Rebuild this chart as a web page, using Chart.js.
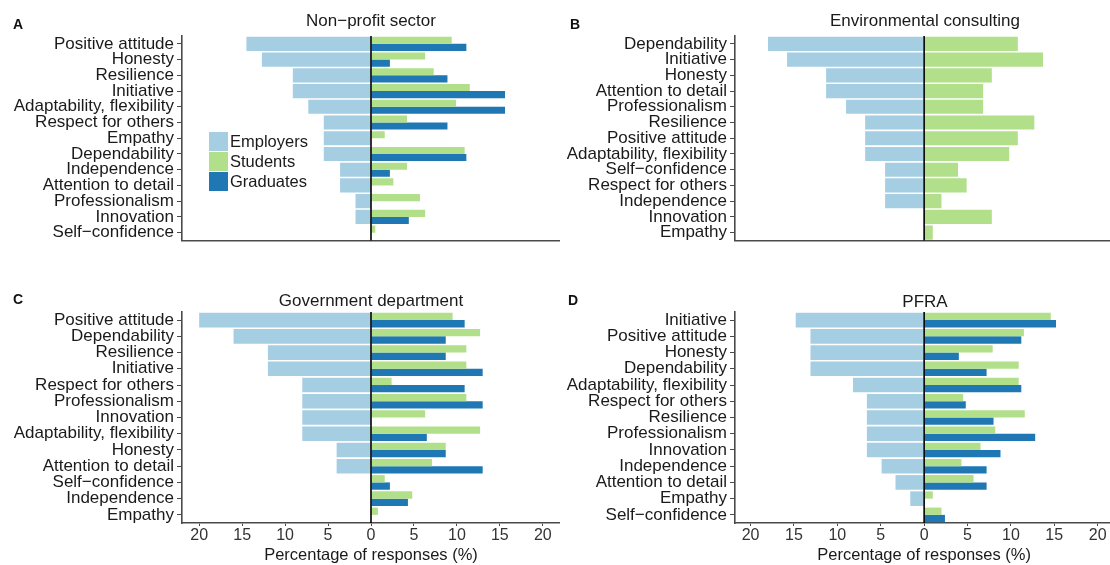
<!DOCTYPE html>
<html>
<head>
<meta charset="utf-8">
<script src="https://cdn.jsdelivr.net/npm/chart.js@4/dist/chart.umd.min.js"></script>
<style>
  html, body { margin: 0; padding: 0; background: #fff; }
  #wrap { position: relative; width: 1110px; height: 565px; overflow: hidden; background: #fff; }
  #wrap canvas { position: absolute; }
</style>
</head>
<body>
<div id="wrap">
  <canvas id="panelA" width="560" height="252" style="left:0px;top:0px"></canvas>
  <canvas id="panelB" width="560" height="252" style="left:555px;top:0px"></canvas>
  <canvas id="panelC" width="560" height="289" style="left:0px;top:276px"></canvas>
  <canvas id="panelD" width="560" height="289" style="left:555px;top:276px"></canvas>
</div>
<script>
// Percentage of responses naming each attribute, by respondent group.
const seriesNames = ['Employers', 'Students', 'Graduates'];
const seriesColors = ['#a6cee3', '#b2df8a', '#1f78b4'];
const tickValues = [-20, -15, -10, -5, 0, 5, 10, 15, 20];
const axisTitle = 'Percentage of responses (%)';

// A: Non-profit sector
const nonprofitSkills = ['Positive attitude', 'Honesty', 'Resilience', 'Initiative',
  'Adaptability, flexibility', 'Respect for others', 'Empathy', 'Dependability',
  'Independence', 'Attention to detail', 'Professionalism', 'Innovation', 'Self\u2212confidence'];
const nonprofitEmployers = [14.5, 12.7, 9.1, 9.1, 7.3, 5.5, 5.5, 5.5, 3.6, 3.6, 1.8, 1.8, 0];
const nonprofitStudents  = [9.4, 6.3, 7.3, 11.5, 9.9, 4.2, 1.6, 10.9, 4.2, 2.6, 5.7, 6.3, 0.5];
const nonprofitGraduates = [11.1, 2.2, 8.9, 15.6, 15.6, 8.9, 0, 11.1, 2.2, 0, 0, 4.4, 0];

// B: Environmental consulting (no graduate responses)
const consultingSkills = ['Dependability', 'Initiative', 'Honesty', 'Attention to detail',
  'Professionalism', 'Resilience', 'Positive attitude', 'Adaptability, flexibility',
  'Self\u2212confidence', 'Respect for others', 'Independence', 'Innovation', 'Empathy'];
const consultingEmployers = [18.0, 15.8, 11.3, 11.3, 9.0, 6.8, 6.8, 6.8, 4.5, 4.5, 4.5, 0, 0];
const consultingStudents  = [10.8, 13.7, 7.8, 6.8, 6.8, 12.7, 10.8, 9.8, 3.9, 4.9, 2.0, 7.8, 1.0];

// C: Government department
const governmentSkills = ['Positive attitude', 'Dependability', 'Resilience', 'Initiative',
  'Respect for others', 'Professionalism', 'Innovation', 'Adaptability, flexibility',
  'Honesty', 'Attention to detail', 'Self\u2212confidence', 'Independence', 'Empathy'];
const governmentEmployers = [20, 16, 12, 12, 8, 8, 8, 8, 4, 4, 0, 0, 0];
const governmentStudents  = [9.5, 12.7, 11.1, 11.1, 2.4, 11.1, 6.3, 12.7, 8.7, 7.1, 1.6, 4.8, 0.8];
const governmentGraduates = [10.9, 8.7, 8.7, 13.0, 10.9, 13.0, 0, 6.5, 8.7, 13.0, 2.2, 4.3, 0];

// D: PFRA
const pfraSkills = ['Initiative', 'Positive attitude', 'Honesty', 'Dependability',
  'Adaptability, flexibility', 'Respect for others', 'Resilience', 'Professionalism',
  'Innovation', 'Independence', 'Attention to detail', 'Empathy', 'Self\u2212confidence'];
const pfraEmployers = [14.8, 13.1, 13.1, 13.1, 8.2, 6.6, 6.6, 6.6, 6.6, 4.9, 3.3, 1.6, 0];
const pfraStudents  = [14.6, 11.5, 7.9, 10.9, 10.9, 4.5, 11.6, 8.2, 6.5, 4.3, 5.7, 1.0, 2.0];
const pfraGraduates = [15.2, 11.2, 4.0, 7.2, 11.2, 4.8, 8.0, 12.8, 8.8, 7.2, 7.2, 0, 2.4];

const FONT = "'Liberation Sans', Arial, Helvetica, sans-serif";
const AXIS_COLOR = '#4a4a4a';

// Panel decorations: zero line, panel letter, title, legend, x-axis title
const panelDecor = {
  id: 'panelDecor',
  afterDatasetsDraw(chart, args, opts) {
    const ctx = chart.ctx;
    const area = chart.chartArea;
    const x0 = chart.scales.x.getPixelForValue(0);
    ctx.save();
    ctx.strokeStyle = '#000';
    ctx.lineWidth = 1.6;
    ctx.beginPath();
    ctx.moveTo(x0, area.top);
    ctx.lineTo(x0, area.bottom);
    ctx.stroke();

    ctx.fillStyle = '#111';
    ctx.font = 'bold 14px ' + FONT;
    ctx.textAlign = 'left';
    ctx.textBaseline = 'alphabetic';
    ctx.fillText(opts.letter, opts.letterX, opts.letterY);

    ctx.font = '17px ' + FONT;
    ctx.textAlign = 'center';
    ctx.fillStyle = '#1a1a1a';
    ctx.fillText(opts.title, (area.left + area.right) / 2, opts.titleY);

    if (opts.xTitle) {
      ctx.font = '16.5px ' + FONT;
      ctx.textBaseline = 'middle';
      ctx.fillText(opts.xTitle, x0, opts.xTitleY);
    }

    if (opts.legend) {
      const lg = opts.legend;
      ctx.font = '16.5px ' + FONT;
      ctx.textAlign = 'left';
      ctx.textBaseline = 'middle';
      chart.data.datasets.forEach((ds, i) => {
        const y = lg.y + i * 20;
        ctx.fillStyle = ds.backgroundColor;
        ctx.fillRect(lg.x, y, 19, 19);
        ctx.fillStyle = '#1a1a1a';
        ctx.fillText(ds.label, lg.x + 21, y + 10);
      });
    }
    ctx.restore();
  }
};

function makePanel(id, cfg) {
  const datasets = [];
  const single = !cfg.graduates;
  datasets.push({
    label: seriesNames[0],
    data: cfg.employers.map(v => -v),
    backgroundColor: seriesColors[0],
    grouped: false,
    inflateAmount: 0,
    categoryPercentage: 0.9,
    barPercentage: 1
  });
  datasets.push({
    label: seriesNames[1],
    data: cfg.students,
    backgroundColor: seriesColors[1],
    grouped: !single,
    inflateAmount: single ? 0 : 'auto',
    categoryPercentage: 0.9,
    barPercentage: 1
  });
  if (!single) {
    datasets.push({
      label: seriesNames[2],
      data: cfg.graduates,
      backgroundColor: seriesColors[2],
      grouped: true,
      categoryPercentage: 0.9,
      barPercentage: 1
    });
  }

  return new Chart(document.getElementById(id), {
    type: 'bar',
    data: { labels: cfg.skills, datasets },
    plugins: [panelDecor],
    options: {
      indexAxis: 'y',
      responsive: false,
      animation: false,
      events: [],
      layout: { padding: { top: 36, left: 0, right: 0, bottom: 0 } },
      plugins: {
        legend: { display: false },
        tooltip: { enabled: false },
        title: { display: false },
        panelDecor: {
          letter: cfg.letter, letterX: cfg.letterX, letterY: cfg.letterY,
          title: cfg.title, titleY: cfg.titleY,
          xTitle: cfg.showX ? axisTitle : null, xTitleY: cfg.xTitleY,
          legend: cfg.legend || null
        }
      },
      scales: {
        x: {
          type: 'linear',
          min: cfg.xMin,
          max: 22,
          afterBuildTicks: (scale) => { scale.ticks = tickValues.map(v => ({ value: v })); },
          afterFit: (scale) => { scale.height = cfg.xAxisHeight; },
          border: { display: true, color: AXIS_COLOR, width: 1.6 },
          grid: {
            display: true, drawOnChartArea: false,
            drawTicks: cfg.showX, tickLength: 3, color: AXIS_COLOR, lineWidth: 1
          },
          ticks: {
            display: cfg.showX,
            autoSkip: false,
            maxRotation: 0,
            padding: 0,
            color: '#333',
            font: { family: FONT, size: 16, lineHeight: 1.2 },
            callback: (v) => String(Math.abs(v))
          }
        },
        y: {
          type: 'category',
          afterFit: (scale) => { scale.width = cfg.yAxisWidth; },
          border: { display: true, color: AXIS_COLOR, width: 1.6 },
          grid: {
            display: true, drawOnChartArea: false, offset: false,
            drawTicks: true, tickLength: 5, color: AXIS_COLOR, lineWidth: 1
          },
          ticks: {
            autoSkip: false,
            padding: 3,
            color: '#1a1a1a',
            font: { family: FONT, size: 17, lineHeight: 1.0 }
          }
        }
      }
    }
  });
}

Chart.defaults.font.family = FONT;

makePanel('panelA', {
  skills: nonprofitSkills, employers: nonprofitEmployers,
  students: nonprofitStudents, graduates: nonprofitGraduates,
  letter: 'A', letterX: 13, letterY: 29, title: 'Non\u2212profit sector', titleY: 26,
  yAxisWidth: 182, xMin: -22, xAxisHeight: 6, showX: false,
  legend: { x: 209, y: 132 }
});

makePanel('panelB', {
  skills: consultingSkills, employers: consultingEmployers,
  students: consultingStudents,
  letter: 'B', letterX: 15, letterY: 28.5, title: 'Environmental consulting', titleY: 26,
  yAxisWidth: 180, xMin: -21.8, xAxisHeight: 6, showX: false
});

makePanel('panelC', {
  skills: governmentSkills, employers: governmentEmployers,
  students: governmentStudents, graduates: governmentGraduates,
  letter: 'C', letterX: 13, letterY: 27.5, title: 'Government department', titleY: 30,
  yAxisWidth: 182, xMin: -22, xAxisHeight: 42, showX: true, xTitleY: 279
});

makePanel('panelD', {
  skills: pfraSkills, employers: pfraEmployers,
  students: pfraStudents, graduates: pfraGraduates,
  letter: 'D', letterX: 13, letterY: 29, title: 'PFRA', titleY: 31,
  yAxisWidth: 180, xMin: -21.8, xAxisHeight: 42, showX: true, xTitleY: 279
});
</script>
</body>
</html>
